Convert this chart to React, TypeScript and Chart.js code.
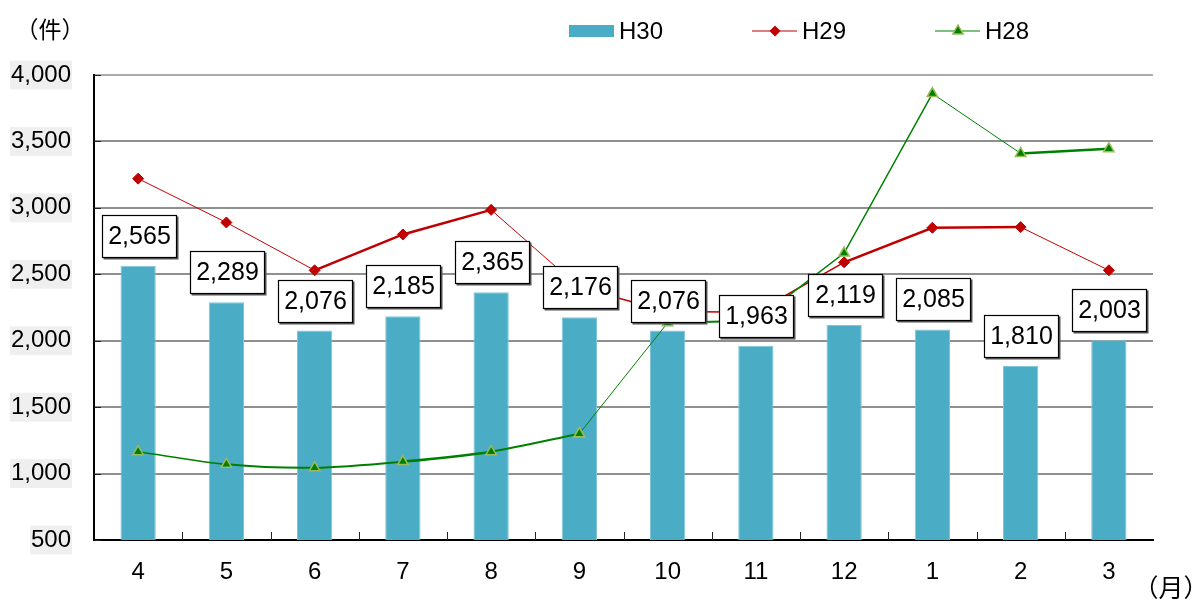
import React, { useEffect, useRef } from 'react';
import { Chart, registerables } from 'chart.js';

Chart.register(...registerables);

// ---- data ----
const months = ['4', '5', '6', '7', '8', '9', '10', '11', '12', '1', '2', '3'];
const h30 = [2565, 2289, 2076, 2185, 2365, 2176, 2076, 1963, 2119, 2085, 1810, 2003];
const h29 = [3220, 2890, 2530, 2800, 2985, 2400, 2220, 2215, 2590, 2850, 2855, 2530];
const h28 = [1165, 1070, 1044, 1090, 1165, 1300, 2135, 2150, 2660, 3860, 3410, 3445];
const seriesNames = ['H30', 'H29', 'H28'];
const yMin = 500;
const yMax = 4000;
const yStep = 500;
const unitY = '（件）';
const unitX = '（月）';

// ---- styles ----
const FONT = '"Liberation Sans", Arial, Helvetica, sans-serif';
const CJK = '"Noto Sans CJK JP", "Noto Sans CJK SC", sans-serif';
const BAR = '#4BACC6';
const RED = '#C00000';
const GREEN = '#008000';
const GREEN_EDGE = '#9BBB59';
const redWidths = [1, 1, 2.5, 2.5, 1, 1.5, 1.5, 1.5, 2.5, 2.5, 1];
const greenWidths = [1.5, 2, 2, 2.5, 2, 1, 2, 1.5, 1.5, 1, 2.5];
const smoothEnd = 5;

function drawDiamond(ctx: CanvasRenderingContext2D, x: number, y: number, r: number, color: string) {
  ctx.beginPath();
  ctx.moveTo(x, y - r);
  ctx.lineTo(x + r, y);
  ctx.lineTo(x, y + r);
  ctx.lineTo(x - r, y);
  ctx.closePath();
  ctx.fillStyle = color;
  ctx.fill();
}

function drawTriangle(ctx: CanvasRenderingContext2D, x: number, y: number, r: number) {
  ctx.beginPath();
  ctx.moveTo(x, y - r);
  ctx.lineTo(x + r * 0.866, y + r / 2);
  ctx.lineTo(x - r * 0.866, y + r / 2);
  ctx.closePath();
  ctx.fillStyle = GREEN;
  ctx.fill();
  ctx.strokeStyle = GREEN_EDGE;
  ctx.lineWidth = 1.5;
  ctx.stroke();
}

const decorPlugin = {
  id: 'decor',
  afterDatasetsDraw(chart: any) {
    const ctx: CanvasRenderingContext2D = chart.ctx;
    const meta = chart.getDatasetMeta(0);
    ctx.save();
    ctx.font = `25px ${FONT}`;
    meta.data.forEach((bar: any, i: number) => {
      const text = h30[i].toLocaleString('en-US');
      const w = 75;
      const h = 43;
      const x = Math.round(bar.x + 1 - w / 2);
      const y = Math.round(bar.y - 8 - h);
      ctx.fillStyle = '#555';
      ctx.fillRect(x + 1.5, y + 1.5, w, h);
      ctx.fillStyle = '#fff';
      ctx.fillRect(x, y, w, h);
      ctx.strokeStyle = '#000';
      ctx.lineWidth = 1.2;
      ctx.strokeRect(x + 0.5, y + 0.5, w - 1, h - 1);
      ctx.fillStyle = '#000';
      ctx.textAlign = 'center';
      ctx.textBaseline = 'middle';
      ctx.fillText(text, x + w / 2, y + h / 2 + 1);
    });
    ctx.restore();
  },
  afterDraw(chart: any) {
    const ctx: CanvasRenderingContext2D = chart.ctx;
    const area = chart.chartArea;
    const ys = chart.scales.y;
    ctx.save();
    // inward tick marks on y axis
    ctx.strokeStyle = '#222';
    ctx.lineWidth = 1;
    ys.ticks.forEach((t: any) => {
      const py = Math.round(ys.getPixelForValue(t.value)) + 0.5;
      ctx.beginPath();
      ctx.moveTo(area.left, py);
      ctx.lineTo(area.left + 7, py);
      ctx.stroke();
    });
    // inward tick marks on x axis at category boundaries
    const n = months.length;
    const cw = (area.right - area.left) / n;
    for (let k = 1; k < n; k++) {
      const px = Math.round(area.left + k * cw) + 0.5;
      ctx.beginPath();
      ctx.moveTo(px, area.bottom - 8);
      ctx.lineTo(px, area.bottom);
      ctx.stroke();
    }

    // legend
    const ly = 31;
    ctx.font = `24px ${FONT}`;
    ctx.textAlign = 'left';
    ctx.textBaseline = 'middle';
    ctx.fillStyle = BAR;
    ctx.fillRect(569, 25, 45, 12);
    ctx.fillStyle = '#000';
    ctx.fillText(seriesNames[0], 619, ly + 1);

    ctx.strokeStyle = RED;
    ctx.lineWidth = 1.2;
    ctx.beginPath();
    ctx.moveTo(752, ly);
    ctx.lineTo(797, ly);
    ctx.stroke();
    drawDiamond(ctx, 775, ly, 5.5, RED);
    ctx.fillStyle = '#000';
    ctx.fillText(seriesNames[1], 802, ly + 1);

    ctx.strokeStyle = GREEN;
    ctx.lineWidth = 1.2;
    ctx.beginPath();
    ctx.moveTo(935, ly);
    ctx.lineTo(980, ly);
    ctx.stroke();
    drawTriangle(ctx, 958, ly, 6);
    ctx.fillStyle = '#000';
    ctx.fillText(seriesNames[2], 985, ly + 1);

    // unit labels
    ctx.font = `23px ${CJK}`;
    ctx.textAlign = 'center';
    ctx.fillText(unitY, 50, 29);
    ctx.font = `25px ${CJK}`;
    ctx.fillText(unitX, 1171, 587);
    ctx.restore();
  },
};

export default function App() {
  const ref = useRef<HTMLCanvasElement>(null);

  useEffect(() => {
    if (!ref.current) return;
    const yTickValues: number[] = [];
    for (let v = yMin; v <= yMax; v += yStep) yTickValues.push(v);

    const chart = new Chart(ref.current, {
      type: 'bar',
      data: {
        labels: months,
        datasets: [
          {
            type: 'bar',
            label: seriesNames[0],
            data: h30,
            backgroundColor: BAR,
            borderColor: '#80c6d9',
            borderWidth: 1,
            barPercentage: 0.4,
            categoryPercentage: 1,
            order: 3,
          } as any,
          {
            type: 'line',
            label: seriesNames[1],
            data: h29,
            borderColor: RED,
            backgroundColor: RED,
            borderWidth: 1.5,
            pointStyle: 'rectRot',
            pointRadius: 5.5,
            pointBackgroundColor: RED,
            pointBorderColor: RED,
            pointBorderWidth: 1,
            tension: 0,
            segment: { borderWidth: (c: any) => redWidths[c.p0DataIndex] },
            order: 2,
          } as any,
          {
            type: 'line',
            label: seriesNames[2],
            data: h28.map((v, i) => (i <= smoothEnd ? v : null)),
            borderColor: GREEN,
            backgroundColor: GREEN,
            borderWidth: 1.5,
            pointStyle: 'triangle',
            pointRadius: 6,
            pointBackgroundColor: GREEN,
            pointBorderColor: GREEN_EDGE,
            pointBorderWidth: 1.5,
            tension: 0.3,
            spanGaps: false,
            segment: { borderWidth: (c: any) => greenWidths[c.p0DataIndex] },
            order: 1,
          } as any,
          {
            type: 'line',
            label: seriesNames[2] + '_',
            data: h28.map((v, i) => (i >= smoothEnd ? v : null)),
            borderColor: GREEN,
            backgroundColor: GREEN,
            borderWidth: 1.5,
            pointStyle: 'triangle',
            pointRadius: 6,
            pointBackgroundColor: GREEN,
            pointBorderColor: GREEN_EDGE,
            pointBorderWidth: 1.5,
            tension: 0,
            spanGaps: false,
            segment: { borderWidth: (c: any) => greenWidths[c.p0DataIndex] },
            order: 0,
          } as any,
        ],
      },
      options: {
        responsive: false,
        animation: false,
        events: [],
        layout: { padding: { top: 75, right: 48, bottom: 0, left: 0 } },
        plugins: {
          legend: { display: false },
          tooltip: { enabled: false },
        },
        scales: {
          x: {
            grid: { display: false },
            border: { display: true, color: '#000', width: 2 },
            ticks: {
              color: '#000',
              font: { size: 24, family: FONT },
              padding: 10,
              maxRotation: 0,
            },
            afterFit: (s: any) => {
              s.height = 60;
            },
          },
          y: {
            min: yMin,
            max: yMax,
            afterBuildTicks: (s: any) => {
              s.ticks = yTickValues.map((v) => ({ value: v }));
            },
            ticks: {
              stepSize: yStep,
              color: '#000',
              font: { size: 24, family: FONT },
              padding: 23,
              showLabelBackdrop: true,
              backdropColor: '#efefef',
              backdropPadding: { x: 1, y: 0 },
              callback: (v: any) => Number(v).toLocaleString('en-US'),
            },
            grid: {
              color: (c: any) => (c.tick && c.tick.value === yMax ? '#ababab' : '#8f8f8f'),
              lineWidth: 2,
              drawTicks: false,
            },
            border: { display: true, color: '#000', width: 2 },
            afterFit: (s: any) => {
              s.width = 94;
            },
          },
        },
      } as any,
      plugins: [decorPlugin],
    });
    return () => chart.destroy();
  }, []);

  return (
    <div style={{ position: 'fixed', left: 0, top: 0, width: 1201, height: 600, background: '#fff' }}>
      <canvas ref={ref} width={1201} height={600} style={{ width: 1201, height: 600, display: 'block' }} />
    </div>
  );
}
